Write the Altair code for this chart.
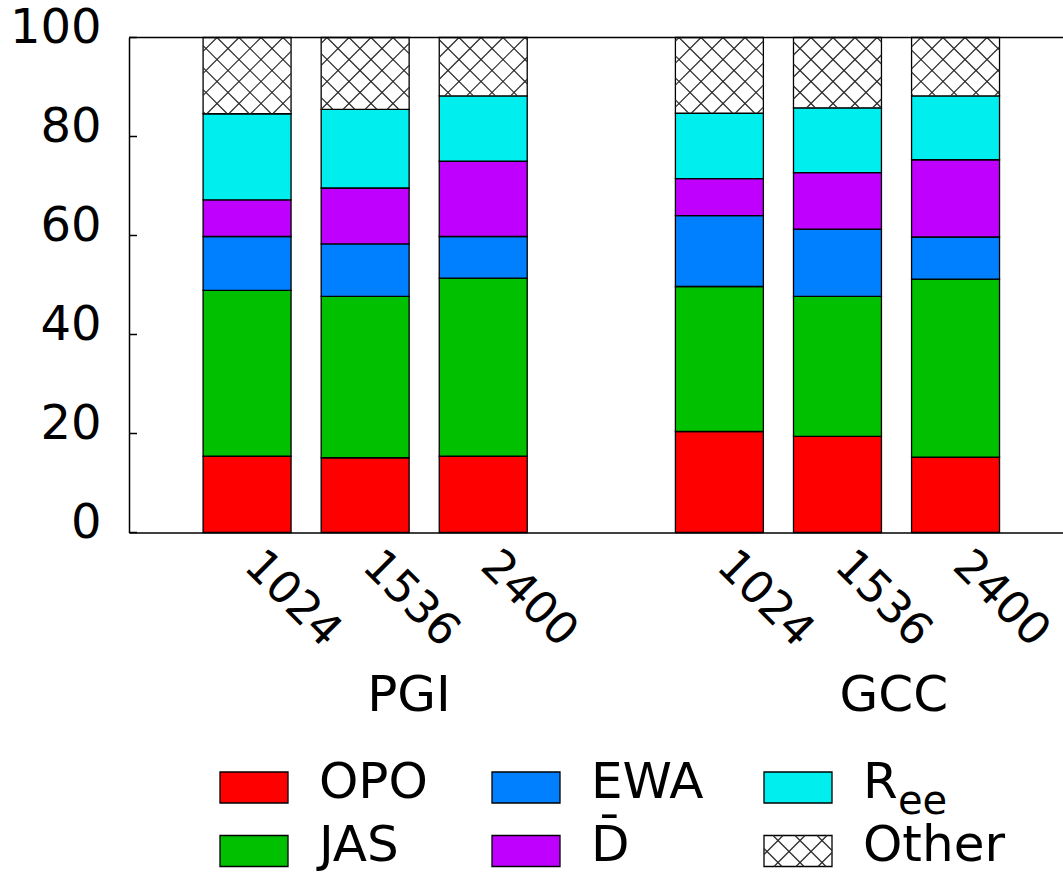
import math
import altair as alt
import pandas as pd

# ---- data -------------------------------------------------------------
groups = ["PGI", "GCC"]
sizes = ["1024", "1536", "2400"]

series = ["OPO", "JAS", "EWA", "Dbar", "Ree", "Other"]
legend_text = ["OPO", "JAS", "EWA", "D\u0304", "R", "Other"]
legend_sub = ["", "", "", "", "ee", ""]
colors = ["#ff0000", "#00c000", "#0080ff", "#c000ff", "#00eeee", "#ffffff"]

# percentage of time per bar: PGI 1024, 1536, 2400, GCC 1024, 1536, 2400
opo = [15.4, 15.1, 15.4, 20.4, 19.4, 15.2]
jas = [33.5, 32.6, 36.0, 29.3, 28.3, 36.0]
ewa = [10.9, 10.6, 8.4, 14.3, 13.6, 8.5]
dbar = [7.4, 11.3, 15.2, 7.5, 11.4, 15.6]
ree = [17.4, 15.9, 13.2, 13.2, 13.1, 12.9]
other = [15.4, 14.5, 11.8, 15.3, 14.2, 11.8]

y_ticks = [0, 20, 40, 60, 80, 100]

# ---- layout -----------------------------------------------------------
W, H = 934, 495
XMAX = 7.91          # x domain upper bound (bar slots are 1 unit apart)
GROUP_STRIDE = 4     # one empty slot between the two compiler groups
BAR_W = 0.745
FONT = "DejaVu Sans"
HATCH_P = 22.0       # crosshatch period in pixels
HATCH_COLOR = "#2a2a2a"

values = [opo, jas, ewa, dbar, ree, other]


def hatch_segments(x0, x1, y0, y1):
    """Crossed 45-degree lines clipped to a pixel rectangle."""
    segs = []
    for k in range(int(math.floor((x0 + y0) / HATCH_P)), int(math.ceil((x1 + y1) / HATCH_P)) + 1):
        c = k * HATCH_P
        lo, hi = max(x0, c - y1), min(x1, c - y0)
        if hi - lo > 0.5:
            segs.append((lo, c - lo, hi, c - hi))
    for k in range(int(math.floor((x0 - y1) / HATCH_P)), int(math.ceil((x1 - y0) / HATCH_P)) + 1):
        c = k * HATCH_P
        lo, hi = max(x0, y0 + c), min(x1, y1 + c)
        if hi - lo > 0.5:
            segs.append((lo, lo - c, hi, hi - c))
    return segs


# stacked segments
rows = []
bar_ticks = {}
for g, grp in enumerate(groups):
    for s, size in enumerate(sizes):
        b = g * len(sizes) + s
        pos = 1 + g * GROUP_STRIDE + s
        bar_ticks[pos] = size
        base = 0.0
        for i, name in enumerate(series):
            v = values[i][b]
            rows.append(dict(group=grp, size=size, series=name, order=i,
                             x0=pos - BAR_W / 2, x1=pos + BAR_W / 2,
                             y0=base, y1=base + v))
            base += v
bars_df = pd.DataFrame(rows)

# crosshatch lines for the "Other" segments, in data units
sx = W / XMAX
sy = H / 100.0
hatch_rows = []
for r in rows:
    if r["series"] != "Other":
        continue
    px0, px1 = r["x0"] * sx, r["x1"] * sx
    py0, py1 = (100 - r["y1"]) * sy, (100 - r["y0"]) * sy
    for a, b_, c, d in hatch_segments(px0, px1, py0, py1):
        hatch_rows.append(dict(hx0=a / sx, hy0=100 - b_ / sy, hx1=c / sx, hy1=100 - d / sy))
hatch_df = pd.DataFrame(hatch_rows)

tick_labels = [bar_ticks.get(i, "") for i in range(0, 9)]
label_expr = "[" + ",".join("'%s'" % t for t in tick_labels) + "][datum.value]"

group_df = pd.DataFrame({
    "group": groups,
    "gx": [1 + g * GROUP_STRIDE + (len(sizes) - 1) / 2 for g in range(len(groups))],
})

x_scale = alt.Scale(domain=[0, XMAX], nice=False, zero=False)
y_scale = alt.Scale(domain=[0, 100], nice=False)

bars = alt.Chart(bars_df).mark_rect(stroke="black", strokeWidth=1.3).encode(
    x=alt.X("x0:Q", scale=x_scale, axis=alt.Axis(
        values=sorted(bar_ticks), labelExpr=label_expr, labelAngle=45,
        labelAlign="left", labelBaseline="alphabetic", labelPadding=35,
        labelOffset=-5,
        labelOverlap=False, labelBound=False, labelFlush=False,
        ticks=False, grid=False, title=None, labelFontSize=45,
        domainColor="black", domainWidth=1.5, orient="bottom")),
    x2="x1:Q",
    y=alt.Y("y0:Q", scale=y_scale, axis=alt.Axis(
        values=y_ticks, ticks=False, grid=False, title=None,
        labelPadding=28, labelFontSize=48, labelOffset=-9,
        domainColor="black", domainWidth=1.5, orient="left")),
    y2="y1:Q",
    color=alt.Color("series:N", scale=alt.Scale(domain=series, range=colors), legend=None),
)

hatch = alt.Chart(hatch_df).mark_rule(color=HATCH_COLOR, strokeWidth=1.2).encode(
    x=alt.X("hx0:Q", scale=x_scale, axis=None),
    y=alt.Y("hy0:Q", scale=y_scale, axis=None),
    x2="hx1:Q",
    y2="hy1:Q",
)

top_rule = alt.Chart(pd.DataFrame({"v": [100]})).mark_rule(
    color="black", strokeWidth=1.5).encode(
    y=alt.Y("v:Q", scale=y_scale, axis=None))

inner_ticks = alt.Chart(pd.DataFrame({"v": y_ticks})).mark_rule(
    color="black", strokeWidth=1.5).encode(
    y=alt.Y("v:Q", scale=y_scale, axis=None),
    x=alt.value(0), x2=alt.value(8))

group_labels = alt.Chart(group_df).mark_text(
    align="left", baseline="alphabetic", dx=2, fontSize=50, font=FONT, color="black"
).encode(
    x=alt.X("gx:Q", scale=x_scale, axis=None),
    y=alt.value(H + 178),
    text="group:N",
)

# ---- legend: two rows, filled column by column -------------------------
LEG_X = [125, 669]      # pixel centres of first and last legend column
LEG_Y = [750, 813.5]    # pixel centres of the two legend rows
SYM_W, SYM_H = 68, 31
ncols = 3
cx = (LEG_X[1] - LEG_X[0]) / (ncols - 1)
cy = LEG_Y[1] - LEG_Y[0]
leg_rows = []
for i, name in enumerate(series):
    col, row = i // 2, i % 2
    leg_rows.append(dict(series=name, label=legend_text[i], sub=legend_sub[i],
                         fill=colors[i], col=col, row=row,
                         lx0=col - SYM_W / 2 / cx, lx1=col + SYM_W / 2 / cx,
                         ly0=row - SYM_H / 2 / cy, ly1=row + SYM_H / 2 / cy))
leg_df = pd.DataFrame(leg_rows)

leg_hatch = []
for r in leg_rows:
    if r["series"] != "Other":
        continue
    px0 = LEG_X[0] + r["lx0"] * cx
    px1 = LEG_X[0] + r["lx1"] * cx
    py0 = LEG_Y[0] + r["ly0"] * cy
    py1 = LEG_Y[0] + r["ly1"] * cy
    for a, b_, c, d in hatch_segments(px0, px1, py0, py1):
        leg_hatch.append(dict(hx0=(a - LEG_X[0]) / cx, hy0=(b_ - LEG_Y[0]) / cy,
                              hx1=(c - LEG_X[0]) / cx, hy1=(d - LEG_Y[0]) / cy))
leg_hatch_df = pd.DataFrame(leg_hatch)

lx_scale = alt.Scale(domain=[0, ncols - 1], range=LEG_X, nice=False, zero=False)
ly_scale = alt.Scale(domain=[0, 1], range=LEG_Y, nice=False, zero=False)

leg_sym = alt.Chart(leg_df).mark_rect(stroke="black", strokeWidth=1.3).encode(
    x=alt.X("lx0:Q", scale=lx_scale, axis=None), x2="lx1:Q",
    y=alt.Y("ly0:Q", scale=ly_scale, axis=None), y2="ly1:Q",
    fill=alt.Fill("fill:N", scale=None),
)
leg_sym_hatch = alt.Chart(leg_hatch_df).mark_rule(color=HATCH_COLOR, strokeWidth=1.2).encode(
    x=alt.X("hx0:Q", scale=lx_scale, axis=None), x2="hx1:Q",
    y=alt.Y("hy0:Q", scale=ly_scale, axis=None), y2="hy1:Q",
)
leg_text = alt.Chart(leg_df).mark_text(
    align="left", baseline="alphabetic", dx=65, dy=10, fontSize=50, font=FONT, color="black"
).encode(
    x=alt.X("col:Q", scale=lx_scale, axis=None),
    y=alt.Y("row:Q", scale=ly_scale, axis=None),
    text="label:N",
)
leg_sub = alt.Chart(leg_df).mark_text(
    align="left", baseline="alphabetic", dx=100, dy=26, fontSize=40, font=FONT, color="black"
).encode(
    x=alt.X("col:Q", scale=lx_scale, axis=None),
    y=alt.Y("row:Q", scale=ly_scale, axis=None),
    text="sub:N",
)

# every layer carries its own explicit scale, so they can be resolved independently
chart = alt.layer(
    bars, hatch, top_rule, inner_ticks, group_labels,
    leg_sym, leg_sym_hatch, leg_text, leg_sub,
).resolve_scale(
    x="independent", y="independent"
).properties(
    width=W, height=H,
    autosize=alt.AutoSizeParams(type="none"),
    padding={"left": 129, "top": 37.5, "right": 0, "bottom": 872 - 37.5 - H},
    background="white",
).configure_view(stroke=None).configure_axis(
    labelFont=FONT, labelColor="black"
)

chart.save("out.html", embed_options={"renderer": "svg", "actions": False})
